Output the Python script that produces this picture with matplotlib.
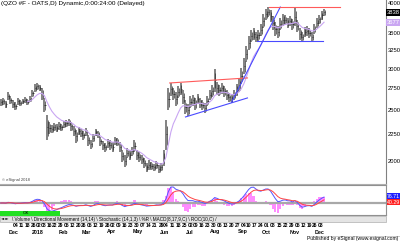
import numpy as np
import pandas as pd
import matplotlib
matplotlib.use('Agg')
import matplotlib.pyplot as plt
import matplotlib.transforms as mtransforms
from matplotlib.patches import Rectangle

# QZO oats, one bar per two trading days (high / low)
hi = [2627, 2638, 2604, 2708, 2661, 2615, 2592, 2638, 2615, 2627,
      2650, 2627, 2661, 2732, 2805, 2817, 2793, 2756, 2638, 2449,
      2375, 2344, 2365, 2354, 2375, 2354, 2385, 2396, 2406, 2375,
      2334, 2293, 2324, 2303, 2283, 2313, 2244, 2196, 2254, 2303,
      2283, 2224, 2186, 2167, 2205, 2196, 2177, 2224, 2215, 2177,
      2102, 2056, 2120, 2102, 2130, 2196, 2102, 2084, 2056, 2029,
      1985, 2011, 1994, 1976, 2002, 1968, 1985, 2102, 2396, 2756,
      2817, 2756, 2708, 2781, 2817, 2732, 2615, 2570, 2661, 2673,
      2638, 2685, 2638, 2615, 2581, 2661, 2732, 2793, 2995, 2830,
      2793, 2817, 2781, 2732, 2697, 2685, 2732, 2805, 2880, 3008,
      3145, 3314, 3462, 3554, 3586, 3523, 3554, 3649, 3812, 3896,
      3930, 3879, 3779, 3681, 3617, 3746, 3812, 3795, 3746, 3779,
      3730, 3913, 3713, 3586, 3523, 3601, 3617, 3586, 3523, 3649,
      3746, 3795, 3862, 3896]
lo = [2547, 2558, 2525, 2615, 2570, 2525, 2503, 2558, 2547, 2570,
      2581, 2558, 2592, 2650, 2708, 2732, 2720, 2615, 2481, 2196,
      2254, 2264, 2283, 2273, 2293, 2283, 2313, 2324, 2334, 2283,
      2234, 2167, 2244, 2224, 2196, 2234, 2139, 2111, 2177, 2234,
      2215, 2139, 2102, 2084, 2120, 2102, 2084, 2148, 2139, 2084,
      1994, 1950, 2029, 2011, 2047, 2084, 2011, 1994, 1976, 1942,
      1908, 1925, 1925, 1917, 1934, 1900, 1917, 1959, 2102, 2503,
      2661, 2615, 2547, 2638, 2673, 2570, 2459, 2438, 2525, 2547,
      2503, 2570, 2525, 2503, 2470, 2547, 2615, 2650, 2708, 2673,
      2661, 2685, 2650, 2615, 2592, 2581, 2615, 2661, 2708, 2805,
      2930, 3089, 3256, 3372, 3402, 3372, 3387, 3462, 3586, 3713,
      3762, 3681, 3554, 3462, 3432, 3554, 3617, 3633, 3586, 3617,
      3554, 3617, 3523, 3402, 3372, 3447, 3462, 3432, 3372, 3493,
      3586, 3649, 3713, 3779]

holidays = ['2017-11-23', '2017-12-25', '2018-01-01', '2018-01-15', '2018-02-19',
            '2018-03-30', '2018-05-28', '2018-07-04', '2018-09-03', '2018-11-22',
            '2018-12-05']
days = pd.bdate_range('2017-11-13', '2018-12-06', freq='C', holidays=holidays)

price_ticks = [2000, 2250, 2500, 2750, 3000, 3250, 3500, 4000]

# trend lines drawn on the chart: (day0, price0, day1, price1, colour)
trend_lines = [(139, 2817, 203, 2880, '#ff5a5a'),
               (152, 2427, 203, 2638, '#4a4aff'),
               (190, 2592, 230, 3930, '#4a4aff'),
               (221, 3930, 279, 3930, '#ff5a5a'),
               (211, 3387, 265, 3387, '#4a4aff')]

hi = np.array(hi, float)
lo = np.array(lo, float)
close = (hi + lo) / 2
t = np.arange(len(hi)) * 2

W, H = 400, 242
fig = plt.figure(figsize=(W / 100, H / 100), dpi=100)
fig.patch.set_facecolor('white')

def box(x0, y0, x1, y1):
    return [x0 / W, 1 - y1 / H, (x1 - x0) / W, (y1 - y0) / H]

small = ['Liberation Sans', 'DejaVu Sans']
narrow = ['Liberation Sans Narrow', 'Liberation Sans', 'DejaVu Sans']

# ---- price panel ----
ax = fig.add_axes(box(0, 0, 386, 184))
ax.vlines(t, lo, hi, color='#787878', lw=1.3)
ax.vlines(t + 0.7, lo + (hi - lo) * 0.15, hi - (hi - lo) * 0.2, color='#303030', lw=0.5)
ax.hlines(close, t, t + 1.0, color='#202020', lw=0.5)

ma = pd.Series(close).ewm(span=9).mean()
ax.plot(t[11:], ma[11:], color='#c9a6f2', lw=0.8)

for d0, p0, d1, p1, c in trend_lines:
    ax.plot([d0, d1], [p0, p1], color=c, lw=0.8)

ax.set_yscale('log')
ax.set_ylim(1809, 4053)
ax.set_xlim(-0.6, 317)
ax.yaxis.tick_right()
ax.yaxis.set_minor_locator(matplotlib.ticker.NullLocator())
ax.set_yticks(price_ticks)
ax.set_yticklabels([str(p) for p in price_ticks], family=small, fontsize=4.2)
ax.tick_params(axis='y', length=0, pad=1.5)
ax.set_xticks([])
for s in ['top', 'left']:
    ax.spines[s].set_visible(False)
ax.spines['right'].set_color('#808080')
ax.spines['bottom'].set_color('#b0b0b0')

# last price and MA value flags on the axis
ax.text(1.003, ax.transAxes.inverted().transform(ax.transData.transform((0, close[-1])))[1],
        f'{close[-1]:.0f}', transform=ax.transAxes, fontsize=4.2, family=small,
        color='white', va='center', ha='left',
        bbox=dict(boxstyle='square,pad=0.15', fc='black', ec='none'))
ax.text(1.003, ax.transAxes.inverted().transform(ax.transData.transform((0, ma.iloc[-1])))[1],
        f'{ma.iloc[-1]:.0f}', transform=ax.transAxes, fontsize=4.2, family=small,
        color='white', va='center', ha='left',
        bbox=dict(boxstyle='square,pad=0.15', fc='#c9a6f2', ec='none'))

ax.text(0.003, 0.995, '(QZO #F - OATS,D) Dynamic,0:00:24:00 (Delayed)', transform=ax.transAxes,
        fontsize=4.6, family=narrow, va='top', ha='left')
ax.text(0.005, 0.01, '\u00a9 eSignal 2018', transform=ax.transAxes,
        fontsize=3, family=narrow, va='bottom', ha='left', color='#444444')

# ---- MACD panel ----
ax2 = fig.add_axes(box(0, 185, 386, 215))
ema_f = pd.Series(close).ewm(span=4).mean()
ema_s = pd.Series(close).ewm(span=9).mean()
macd = ema_f - ema_s
sig = macd.ewm(span=5).mean()
hist = macd - sig
ax2.axhline(0, color='#a8a8a8', lw=1.6)
ax2.bar(t, hist * 2, width=1.8, color='#ff66ff', alpha=0.75)
ax2.plot(t, macd, color='#5555ff', lw=0.7)
ax2.plot(t, sig, color='#ff4444', lw=0.7)
peak = macd.max()
ax2.set_ylim(-peak * 12 / 16, peak * 18 / 16)
ax2.set_xlim(-0.6, 317)
ax2.set_xticks([])
ax2.set_yticks([])
ax2.spines['left'].set_visible(False)
for s in ['top', 'bottom', 'right']:
    ax2.spines[s].set_color('#909090')
ax2.text(1.003, 0.62, f'{macd.iloc[-1]:.2f}', transform=ax2.transAxes, fontsize=3.8,
         family=small, color='white', va='center', ha='left',
         bbox=dict(boxstyle='square,pad=0.1', fc='#2020ff', ec='none'))
ax2.text(1.003, 0.42, f'{sig.iloc[-1]:.2f}', transform=ax2.transAxes, fontsize=3.8,
         family=small, color='white', va='center', ha='left',
         bbox=dict(boxstyle='square,pad=0.1', fc='#ff2020', ec='none'))

# ---- status bar, tabs ----
fig.patches.append(Rectangle((0, 1 - 216 / H), 60 / W, 5 / H, transform=fig.transFigure,
                             fc='#22e022', ec='none'))
fig.text(26 / W, 1 - 213.5 / H, 'OK', fontsize=3.2, family=small, va='center', ha='center')
fig.patches.append(Rectangle((0, 1 - 222 / H), 386 / W, 6 / H, transform=fig.transFigure,
                             fc='#e4e4e4', ec='#a0a0a0', lw=0.4))
fig.text(1 / W, 1 - 219 / H, '\u25c4 \u25ba', fontsize=3, family=['DejaVu Sans'], va='center')
fig.text(12 / W, 1 - 219 / H,
         '\\ Volume \\ Directional Movement (14,14) \\ Stochastic (14,1,3) \\ %R \\ MACD(8,17,9,C) \\ ROC(10,C) /',
         fontsize=3.3, family=narrow, va='center', ha='left')

# ---- date labels ----
trans = mtransforms.blended_transform_factory(ax.transData, fig.transFigure)
di = pd.Series(np.arange(len(days)), index=days)
iso = days.isocalendar()
weeks = di.groupby([iso.year.values, iso.week.values]).first()
for k in weeks.values:
    if k < 10:
        continue
    fig.text(0, 0, f'{days[k].day:02d}', transform=trans, fontsize=3.6, family=small,
             weight='bold', va='center', ha='center').set_position((k - 2, 1 - 225.5 / H))
months = di.groupby([days.year, days.month]).first()
for k in months.values:
    d = days[k]
    if k == 0:
        continue
    lab = str(d.year) if d.month == 1 else d.strftime('%b')
    fig.text(0, 0, lab, transform=trans, fontsize=3.8, family=small,
             weight='bold', va='center', ha='center').set_position((k - 2.5, 1 - 232 / H))

fig.text(398 / W, 1 - 238.5 / H, 'Published by eSignal (www.esignal.com)', fontsize=3.6,
         family=narrow, va='center', ha='right')
fig.lines.append(plt.Line2D([310 / W, 1], [1 - 235.5 / H] * 2, transform=fig.transFigure,
                            color='#a0a0a0', lw=0.4))

fig.savefig('out.png', dpi=100)
